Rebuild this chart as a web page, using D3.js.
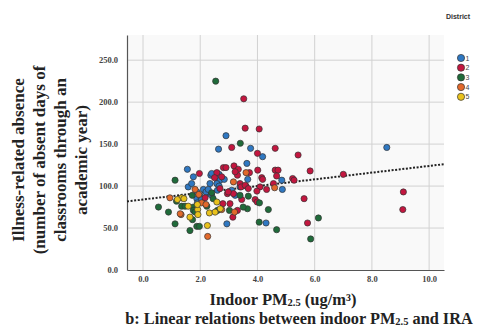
<!DOCTYPE html>
<html><head><meta charset="utf-8">
<script src="https://cdn.jsdelivr.net/npm/d3@7"></script>
<style>body{margin:0;background:#fff}svg{display:block}</style>
</head><body>
<svg id="c" width="481" height="328"></svg>
<script>
// Data (Indoor PM2.5, illness-related absence) by district
const district1 = [[2.90,160],[2.64,144],[3.76,145],[4.18,135],[3.63,127],[1.55,120],[1.76,111],[2.37,113],[2.66,114],[3.66,108],[2.59,103],[2.69,107],[2.11,96],[1.58,99],[1.70,103],[1.88,93],[2.60,95],[3.39,99],[4.87,96],[4.85,107],[3.10,95],[2.34,91],[2.40,89],[2.20,93],[3.22,89],[1.88,85],[1.90,80],[2.93,55],[4.30,56],[8.52,146],[2.40,115],[2.84,108],[2.34,103],[2.58,103],[2.66,100],[2.28,96],[2.00,88],[2.05,84]];
const district2 = [[3.52,204],[3.57,169],[4.06,168],[3.10,146],[4.62,145],[4.00,139],[5.42,137],[2.81,122],[2.90,122],[3.18,124],[5.84,118],[1.97,115],[2.75,111],[2.58,116],[3.30,113],[3.72,116],[4.62,119],[4.72,119],[4.15,110],[4.18,108],[4.67,112],[5.23,109],[5.28,107],[3.39,103],[2.69,97],[3.60,100],[4.09,99],[4.32,96],[4.56,103],[3.98,94],[2.95,91],[3.16,91],[3.45,84],[3.92,84],[3.99,81],[5.63,85],[2.17,86],[2.79,79],[3.30,71],[3.14,63],[5.75,56],[7.00,114],[9.10,93],[9.08,72],[4.01,119],[3.33,120],[3.22,117],[3.43,99],[3.57,101],[3.68,97],[2.98,93],[3.04,79],[2.50,110]];
const district3 = [[2.54,225],[3.40,151],[1.12,107],[2.40,92],[3.68,88],[3.39,89],[4.07,80],[1.17,82],[1.72,89],[2.23,76],[1.76,75],[1.35,76],[1.47,76],[0.54,75],[0.89,69],[1.76,71],[1.82,69],[1.73,60],[1.12,55],[1.88,52],[1.97,52],[1.64,47],[2.60,71],[3.02,71],[3.65,73],[4.06,57],[4.38,72],[4.67,48],[5.86,37],[6.13,62],[2.45,85],[3.50,75]];
const district4 = [[3.60,116],[3.16,105],[1.82,96],[4.60,98],[0.94,86],[2.05,80],[2.20,78],[1.33,66],[1.30,67],[2.26,40],[3.20,69],[2.75,72],[1.95,90]];
const district5 = [[1.35,86],[1.43,85],[1.58,76],[1.91,72],[1.90,78],[1.64,63],[1.92,66],[2.25,53],[2.32,68],[2.52,69],[2.58,81],[2.70,73],[1.20,84]];
const districts = ["1","2","3","4","5"];
const districtColors = ["#2f78c2","#c3163f","#1f6b3a","#e2692b","#e9c21c"];
const xTicks = [0,2,4,6,8,10];
const yTicks = [0,50,100,150,200,250];
const fitIntercept = 84, fitSlope = 4.0;
const yTitleLines = ["Illness-related absence","(number of absent days of","classrooms through an","academic year)"];

const svg = d3.select("#c");
const L=127,R=444,T=35,B=270;
const x = d3.scaleLinear().domain([-0.56,10.52]).range([L,R]);
const y = d3.scaleLinear().domain([0,280]).range([B,T]);
const serif = "'Liberation Serif','Times New Roman',serif";

svg.append("rect").attr("x",L).attr("y",T).attr("width",R-L).attr("height",B-T).attr("fill","#f9f9f9");

// grid
svg.append("g").selectAll("line").data(xTicks).join("line")
  .attr("x1",d=>x(d)).attr("x2",d=>x(d)).attr("y1",T).attr("y2",B)
  .attr("stroke","#d2d2d2").attr("stroke-width",1);
svg.append("g").selectAll("line").data(yTicks.filter(d=>d>0)).join("line")
  .attr("x1",L).attr("x2",R).attr("y1",d=>y(d)).attr("y2",d=>y(d))
  .attr("stroke","#d2d2d2").attr("stroke-width",1);

// axes
const ax = svg.append("g").attr("transform",`translate(0,${B})`)
  .call(d3.axisBottom(x).tickValues(xTicks).tickFormat(d3.format(".1f")).tickSize(0).tickPadding(6));
const ay = svg.append("g").attr("transform",`translate(${L},0)`)
  .call(d3.axisLeft(y).tickValues(yTicks).tickFormat(d3.format(".1f")).tickSize(0).tickPadding(9));
[ax,ay].forEach(g=>{
  g.select(".domain").attr("stroke","#555").attr("stroke-width",1.2);
  g.selectAll("text").attr("font-family",serif).attr("font-weight","bold").attr("font-size",8.5).attr("fill","#444");
});

// regression line
svg.append("line")
  .attr("x1",x(-0.56)).attr("y1",y(fitIntercept+fitSlope*-0.56))
  .attr("x2",x(10.52)).attr("y2",y(fitIntercept+fitSlope*10.52))
  .attr("stroke","#222").attr("stroke-width",2).attr("stroke-dasharray","2,1.6");

// points
const all = [district1,district2,district3,district4,district5];
all.forEach((arr,i)=>{
  svg.append("g").selectAll("circle").data(arr).join("circle")
    .attr("cx",d=>x(d[0])).attr("cy",d=>y(d[1])).attr("r",3.1)
    .attr("fill",districtColors[i]).attr("stroke","#333").attr("stroke-width",0.7);
});

// legend
svg.append("text").attr("x",458).attr("y",19).attr("text-anchor","middle")
  .attr("font-family","'Liberation Sans',Arial,sans-serif").attr("font-size",7).attr("font-weight","bold").attr("fill","#333").text("District");
const lg = svg.append("g").selectAll("g").data(districts).join("g")
  .attr("transform",(d,i)=>`translate(461,${58+i*9.7})`);
lg.append("circle").attr("r",3.6).attr("fill",(d,i)=>districtColors[i]).attr("stroke","#333").attr("stroke-width",0.7);
lg.append("text").attr("x",4.5).attr("y",2.5).attr("font-family","'Liberation Sans',Arial,sans-serif").attr("font-size",7).attr("fill","#444").text(d=>d);

// y title
const yt = svg.append("text").attr("transform","translate(0,160) rotate(-90)")
  .attr("text-anchor","middle").attr("font-family",serif).attr("font-weight","bold").attr("font-size",17).attr("fill","#222");
yTitleLines.forEach((t,i)=>yt.append("tspan").attr("x",0).attr("y",24+i*21).text(t));

// x title
const xt = svg.append("text").attr("x",283).attr("y",305).attr("text-anchor","middle")
  .attr("font-family",serif).attr("font-weight","bold").attr("font-size",16.5).attr("fill","#222");
xt.append("tspan").text("Indoor PM");
xt.append("tspan").attr("font-size",10.5).attr("dy",1).text("2.5");
xt.append("tspan").attr("dy",-1).text(" (ug/m³)");

// caption
const cp = svg.append("text").attr("x",299).attr("y",324).attr("text-anchor","middle")
  .attr("font-family",serif).attr("font-weight","bold").attr("font-size",16.3).attr("fill","#222");
cp.append("tspan").text("b: Linear relations between indoor PM");
cp.append("tspan").attr("font-size",10.5).attr("dy",1).text("2.5");
cp.append("tspan").attr("dy",-1).text(" and IRA");
</script>
</body></html>
